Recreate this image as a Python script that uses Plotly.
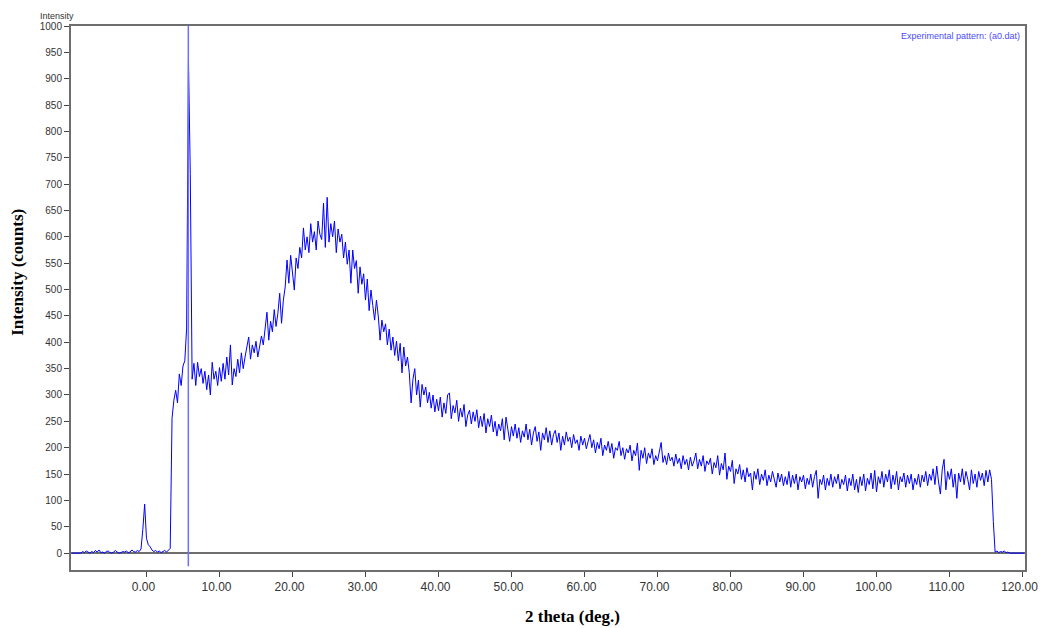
import numpy as np
import plotly.graph_objects as go

# ---- data (intensity, 0.25 deg sampling) ----
TWO_THETA_START = -10.25
TWO_THETA_STEP = 0.25

rows = [
    [0, 0, 0, 0, 0],                                                                     # -10.25 .. -9.25
    [0, 3, 1, 4, 2, 0, 3, 1, 5, 2, 6, 1, 2, 0, 3, 4, 1, 0, 2, 5],                         # -9.0
    [2, 0, 1, 3, 2, 4, 1, 2, 6, 3, 2, 5, 3, 8, 45, 93, 28, 16, 12, 6],                    # -4.0
    [3, 5, 2, 4, 1, 3, 5, 2, 6, 9, 256, 290, 309, 285, 340, 318, 355, 365, 427, 934],     # 1.0
    [720, 330, 360, 318, 362, 335, 350, 322, 345, 310, 338, 300, 362, 330, 345, 318, 352, 326, 360, 330],  # 6
    [372, 338, 395, 319, 350, 335, 368, 342, 380, 350, 372, 395, 410, 368, 395, 380, 402, 372, 390, 412],  # 11
    [395, 430, 457, 404, 440, 420, 462, 430, 455, 493, 436, 480, 505, 556, 512, 565, 530, 499, 560, 540],  # 16
    [580, 560, 617, 575, 600, 570, 625, 590, 610, 575, 630, 605, 595, 664, 580, 675, 590, 625, 600, 630],  # 21
    [570, 615, 590, 605, 560, 590, 548, 575, 512, 575, 540, 555, 493, 543, 510, 530, 480, 520, 460, 499],  # 26
    [470, 442, 480, 450, 404, 442, 420, 435, 395, 425, 385, 410, 375, 402, 365, 398, 342, 391, 355, 372],  # 31
    [342, 285, 330, 350, 300, 328, 277, 320, 300, 315, 285, 305, 275, 300, 268, 292, 270, 296, 258, 285],  # 36
    [265, 300, 304, 255, 280, 266, 290, 250, 275, 258, 282, 240, 262, 271, 245, 268, 250, 272, 238, 260],  # 41
    [240, 265, 228, 255, 240, 262, 230, 250, 222, 245, 232, 255, 215, 258, 235, 212, 240, 222, 245, 218],  # 46
    [238, 210, 232, 220, 245, 215, 235, 205, 228, 240, 212, 230, 195, 228, 215, 238, 210, 232, 205, 225],  # 51
    [233, 210, 228, 195, 222, 205, 230, 212, 220, 200, 225, 208, 215, 195, 222, 205, 218, 198, 212, 225],  # 56
    [200, 215, 190, 210, 198, 218, 185, 205, 195, 212, 190, 208, 180, 200, 195, 212, 185, 200, 178, 198],  # 61
    [190, 205, 175, 195, 185, 209, 157, 195, 180, 200, 170, 190, 180, 198, 168, 185, 175, 195, 210, 172],  # 66
    [185, 168, 190, 175, 182, 165, 188, 170, 180, 160, 185, 168, 178, 158, 182, 165, 175, 190, 160, 178],  # 71
    [165, 185, 155, 175, 168, 180, 150, 172, 162, 185, 148, 170, 158, 190, 140, 165, 155, 176, 132, 160],  # 76
    [150, 168, 140, 158, 135, 162, 145, 152, 120, 155, 140, 160, 130, 150, 138, 158, 128, 148, 135, 155],  # 81
    [140, 125, 152, 135, 150, 128, 145, 130, 155, 125, 148, 132, 150, 120, 145, 135, 148, 122, 142, 130],  # 86
    [150, 125, 145, 157, 104, 140, 130, 148, 120, 142, 128, 150, 125, 145, 132, 150, 122, 140, 130, 148],  # 91
    [118, 142, 128, 150, 120, 140, 115, 145, 128, 150, 118, 142, 130, 152, 122, 157, 116, 145, 132, 155],  # 96
    [125, 150, 135, 158, 122, 148, 130, 155, 120, 145, 135, 152, 125, 148, 132, 150, 120, 142, 130, 150],  # 101
    [125, 148, 135, 155, 128, 150, 138, 160, 130, 165, 135, 112, 158, 178, 120, 155, 140, 160, 125, 150],  # 106
    [104, 152, 135, 160, 130, 155, 140, 120, 158, 132, 150, 125, 155, 138, 152, 128, 157, 135, 158, 140],  # 111
    [60, 2, 4, 1, 3, 2, 4, 1, 2, 0, 0, 0, 0, 0, 0, 0, 0, 0],                              # 116 .. 120.25
]
intensity = [v for r in rows for v in r]
two_theta = TWO_THETA_START + TWO_THETA_STEP * np.arange(len(intensity))

marker_position = 5.73          # vertical peak marker (2 theta)
x_ticks = [0, 10, 20, 30, 40, 50, 60, 70, 80, 90, 100, 110, 120]
x_tick_labels = [f"{v:.2f}" for v in x_ticks]
y_ticks = list(range(0, 1001, 50))

fig = go.Figure()
fig.add_trace(go.Scatter(
    x=two_theta, y=intensity, mode="lines",
    line=dict(color="#0000ff", width=1),
    showlegend=False, hoverinfo="skip",
))

fig.add_shape(type="line", xref="x", yref="y",
              x0=marker_position, x1=marker_position, y0=-25, y1=1000,
              line=dict(color="#6f6fff", width=1.5))

axis_grey = "#6e6e6e"
fig.update_xaxes(
    range=[-10.34, 120.34], tickmode="array", tickvals=x_ticks, ticktext=x_tick_labels,
    ticks="outside", ticklen=5, tickcolor="#444", tickwidth=1,
    showline=True, linecolor=axis_grey, linewidth=2, mirror=True,
    showgrid=False, zeroline=False, automargin=False,
    tickfont=dict(family="Liberation Sans", size=12, color="#333"),
    ticklabelshift=-3,
)
fig.update_yaxes(
    range=[-32, 1000], tickmode="array", tickvals=y_ticks,
    ticks="outside", ticklen=5, tickcolor="#444", tickwidth=1,
    showline=True, linecolor=axis_grey, linewidth=2, mirror=True,
    showgrid=False, zeroline=True, zerolinecolor=axis_grey, zerolinewidth=2,
    automargin=False,
    tickfont=dict(family="Liberation Sans", size=10, color="#333"),
)

fig.add_annotation(text="Experimental pattern: (a0.dat)", xref="paper", yref="paper",
                   x=0.997, y=0.995, xanchor="right", yanchor="top", showarrow=False,
                   font=dict(family="Liberation Sans", size=9, color="#4a4aff"))
fig.add_annotation(text="Intensity", xref="paper", yref="paper",
                   x=-0.015, y=1.018, xanchor="center", yanchor="middle", showarrow=False,
                   font=dict(family="Liberation Sans", size=9, color="#333"))
fig.add_annotation(text="<b>Intensity (counts)</b>", xref="paper", yref="paper",
                   x=-0.0556, y=0.548, textangle=-90, xanchor="center", yanchor="middle",
                   showarrow=False,
                   font=dict(family="Liberation Serif", size=17, color="#000"))
fig.add_annotation(text="<b>2 theta (deg.)</b>", xref="paper", yref="paper",
                   x=0.526, y=-0.086, xanchor="center", yanchor="middle", showarrow=False,
                   font=dict(family="Liberation Serif", size=17, color="#000"))

fig.update_layout(
    width=1044, height=628, autosize=False,
    margin=dict(l=71, r=19, t=26, b=58),
    paper_bgcolor="white", plot_bgcolor="white",
)

fig.write_html(
    "out.html",
    config={"displayModeBar": False, "responsive": False},
    post_script="document.body.style.margin='0';document.body.style.overflow='hidden';",
)
